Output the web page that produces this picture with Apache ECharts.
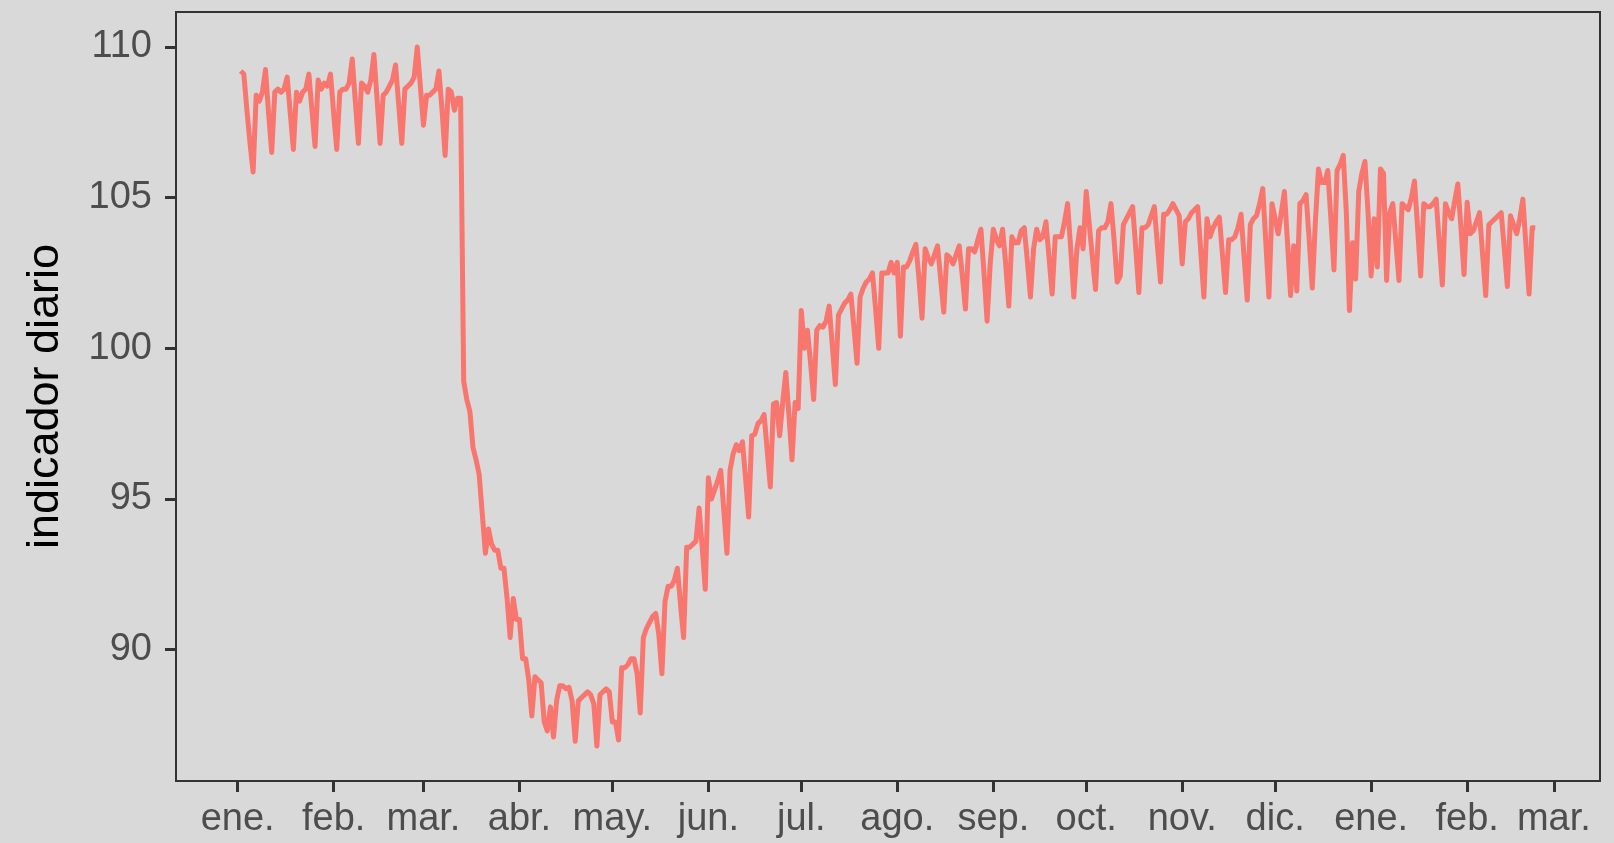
<!DOCTYPE html>
<html>
<head>
<meta charset="utf-8">
<script src="https://cdn.jsdelivr.net/npm/echarts@6/dist/echarts.min.js"></script>
<style>
html,body{margin:0;padding:0;background:#D9D9D9;}
#chart{width:1614px;height:843px;}
</style>
</head>
<body>
<div id="chart"></div>
<script>
// ---- data (daily values, first day = startDate) ----
const startDate = '2020-01-02';
const ene2020 = [109.2,109.1,107.9,106.8,105.85,108.4,108.2,108.5,109.25,107.8,106.5,108.5,108.6,108.5,108.6,109.0,107.8,106.6,108.5,108.2,108.5,108.6,109.1,107.9,106.7,108.9,108.6,108.8,108.7,109.1];
const feb2020 = [107.8,106.6,108.5,108.6,108.6,108.8,109.6,108.2,106.8,108.8,108.7,108.5,108.9,109.75,108.3,106.8,108.4,108.5,108.7,108.9,109.4,108.1,106.8,108.6,108.7,108.8,109.0,110.0,108.7];
const mar2020 = [107.4,108.4,108.4,108.5,108.6,109.2,107.9,106.4,108.6,108.5,107.9,108.3,108.3,98.9,98.3,97.9,96.7,96.3,95.8,94.5,93.2,94.0,93.5,93.3,93.3,92.7,92.7,91.7,90.4,91.7,91.0];
const abr2020 = [91.0,89.7,89.7,89.0,87.8,89.1,89.0,88.9,87.6,87.3,88.1,87.1,88.3,88.8,88.8,88.7,88.75,88.3,86.96,88.3,88.4,88.5,88.6,88.5,88.2,86.8,88.5,88.6,88.7,88.6];
const may2020 = [87.6,87.6,87.0,89.4,89.4,89.5,89.7,89.7,89.2,87.9,90.4,90.7,90.9,91.1,91.2,90.5,89.2,91.6,92.1,92.1,92.3,92.7,91.5,90.4,93.4,93.4,93.5,93.6,94.7,93.4,92.0];
const jun2020 = [95.7,95.0,95.3,95.6,95.95,94.6,93.2,95.95,96.5,96.8,96.6,96.9,95.7,94.4,97.1,97.15,97.5,97.6,97.8,96.6,95.4,98.15,98.2,97.1,98.2,99.2,97.8,96.3,98.2,98.0];
const jul2020 = [101.25,100.0,100.6,99.5,98.3,100.6,100.75,100.7,100.9,101.4,100.1,98.8,101.1,101.3,101.5,101.6,101.8,100.7,99.5,101.7,102.0,102.2,102.3,102.5,101.3,100.0,102.5,102.5,102.5,102.85,102.5];
const ago2020 = [102.85,100.4,102.7,102.7,102.9,103.2,103.45,102.3,101.0,103.3,103.0,102.8,103.1,103.4,102.3,101.2,103.1,103.0,102.8,103.1,103.4,102.4,101.3,103.3,103.3,103.2,103.6,103.95,102.5,100.9,102.8];
const sep2020 = [103.95,103.6,103.4,103.95,102.8,101.4,103.7,103.5,103.5,103.9,104.0,102.9,101.7,103.3,103.95,103.6,103.7,104.2,103.0,101.8,103.7,103.7,103.7,104.2,104.8,103.3,101.7,103.3,104.0,103.3];
const oct2020 = [105.2,104.1,103.0,101.95,103.9,104.0,104.0,104.2,104.8,103.6,102.2,102.4,104.1,104.3,104.5,104.7,103.3,101.85,104.0,104.0,104.1,104.4,104.7,103.4,102.2,104.45,104.45,104.6,104.8,104.6,104.4];
const nov2020 = [102.8,104.2,104.3,104.5,104.6,104.7,103.2,101.7,104.3,103.7,104.0,104.2,104.35,103.1,101.85,103.6,103.6,103.7,104.0,104.45,103.0,101.6,104.1,104.3,104.4,104.8,105.3,103.5,101.7,104.8];
const dic2020 = [104.3,103.8,104.5,105.2,103.5,101.75,103.4,101.9,104.8,104.9,105.1,103.6,102.0,104.2,105.95,105.5,105.5,105.9,104.3,102.6,105.9,106.1,106.4,104.5,101.25,103.5,102.3,105.2,105.8,106.2,104.5];
const ene2021 = [102.4,104.3,102.7,105.95,105.8,102.25,104.5,104.8,103.5,102.25,104.8,104.7,104.6,105.0,105.55,104.0,102.4,104.8,104.7,104.7,104.8,104.95,103.5,102.1,104.8,104.5,104.3,104.9,105.45,104.0,102.45];
const feb2021 = [104.85,103.8,103.9,104.2,104.5,103.1,101.75,104.1,104.2,104.3,104.4,104.5,103.3,102.05,104.4,104.1,103.8,104.3,104.95,103.4,101.8,104.0,104.0];

// ---- axis ticks ----
const monthStarts = ['2020-01-01','2020-02-01','2020-03-01','2020-04-01','2020-05-01','2020-06-01','2020-07-01','2020-08-01','2020-09-01','2020-10-01','2020-11-01','2020-12-01','2021-01-01','2021-02-01','2021-03-01'];
const monthLabels = ['ene.','feb.','mar.','abr.','may.','jun.','jul.','ago.','sep.','oct.','nov.','dic.','ene.','feb.','mar.'];
const yTicks = [90, 95, 100, 105, 110];
const yTitle = 'indicador diario';

// ---- build ----
const DAY = 86400000;
const origin = Date.UTC(2020, 0, 1);
function dayOf(s){ const p = s.split('-').map(Number); return Math.round((Date.UTC(p[0], p[1]-1, p[2]) - origin) / DAY); }
const values = [].concat(ene2020, feb2020, mar2020, abr2020, may2020, jun2020, jul2020, ago2020, sep2020, oct2020, nov2020, dic2020, ene2021, feb2021);
const d0 = dayOf(startDate);
const seriesData = values.map((v, i) => [d0 + i, v]);
const monthTicks = monthStarts.map(dayOf);
const labelByDay = {};
monthTicks.forEach((d, i) => { labelByDay[d] = monthLabels[i]; });

const xLo = d0, xHi = d0 + values.length - 1;
const xPad = (xHi - xLo) * 0.05;
const yLo = Math.min.apply(null, values), yHi = Math.max.apply(null, values);
const yPad = (yHi - yLo) * 0.05;

const chart = echarts.init(document.getElementById('chart'), null, {renderer: 'canvas'});
const FONT = '"Liberation Sans", Arial, sans-serif';
chart.setOption({
  backgroundColor: '#D9D9D9',
  animation: false,
  grid: { left: 176, right: 14, top: 12, bottom: 62, show: true, borderColor: '#333333', borderWidth: 2, backgroundColor: 'transparent' },
  xAxis: {
    type: 'value', min: xLo - xPad, max: xHi + xPad,
    splitLine: { show: false }, axisLine: { show: false, onZero: false },
    axisTick: { show: true, customValues: monthTicks, length: 11, lineStyle: { color: '#333333', width: 3 } },
    axisLabel: { customValues: monthTicks, formatter: v => labelByDay[Math.round(v)] || '', fontSize: 38, color: '#4D4D4D', fontFamily: FONT, margin: 20 }
  },
  yAxis: {
    type: 'value', min: yLo - yPad, max: yHi + yPad,
    splitLine: { show: false }, axisLine: { show: false, onZero: false },
    axisTick: { show: true, customValues: yTicks, length: 11, lineStyle: { color: '#333333', width: 3 } },
    axisLabel: { customValues: yTicks, fontSize: 38, color: '#4D4D4D', fontFamily: FONT, margin: 24 }
  },
  graphic: [{
    type: 'text', x: 46, y: 396.5, rotation: Math.PI / 2, silent: true,
    style: { text: yTitle, font: '45px ' + FONT, fill: '#000000', align: 'center', verticalAlign: 'middle' }
  }],
  series: [{
    type: 'line', data: seriesData, showSymbol: false, symbol: 'none', silent: true,
    lineStyle: { color: '#F8766D', width: 5, cap: 'butt', join: 'round' }
  }]
});
</script>
</body>
</html>
